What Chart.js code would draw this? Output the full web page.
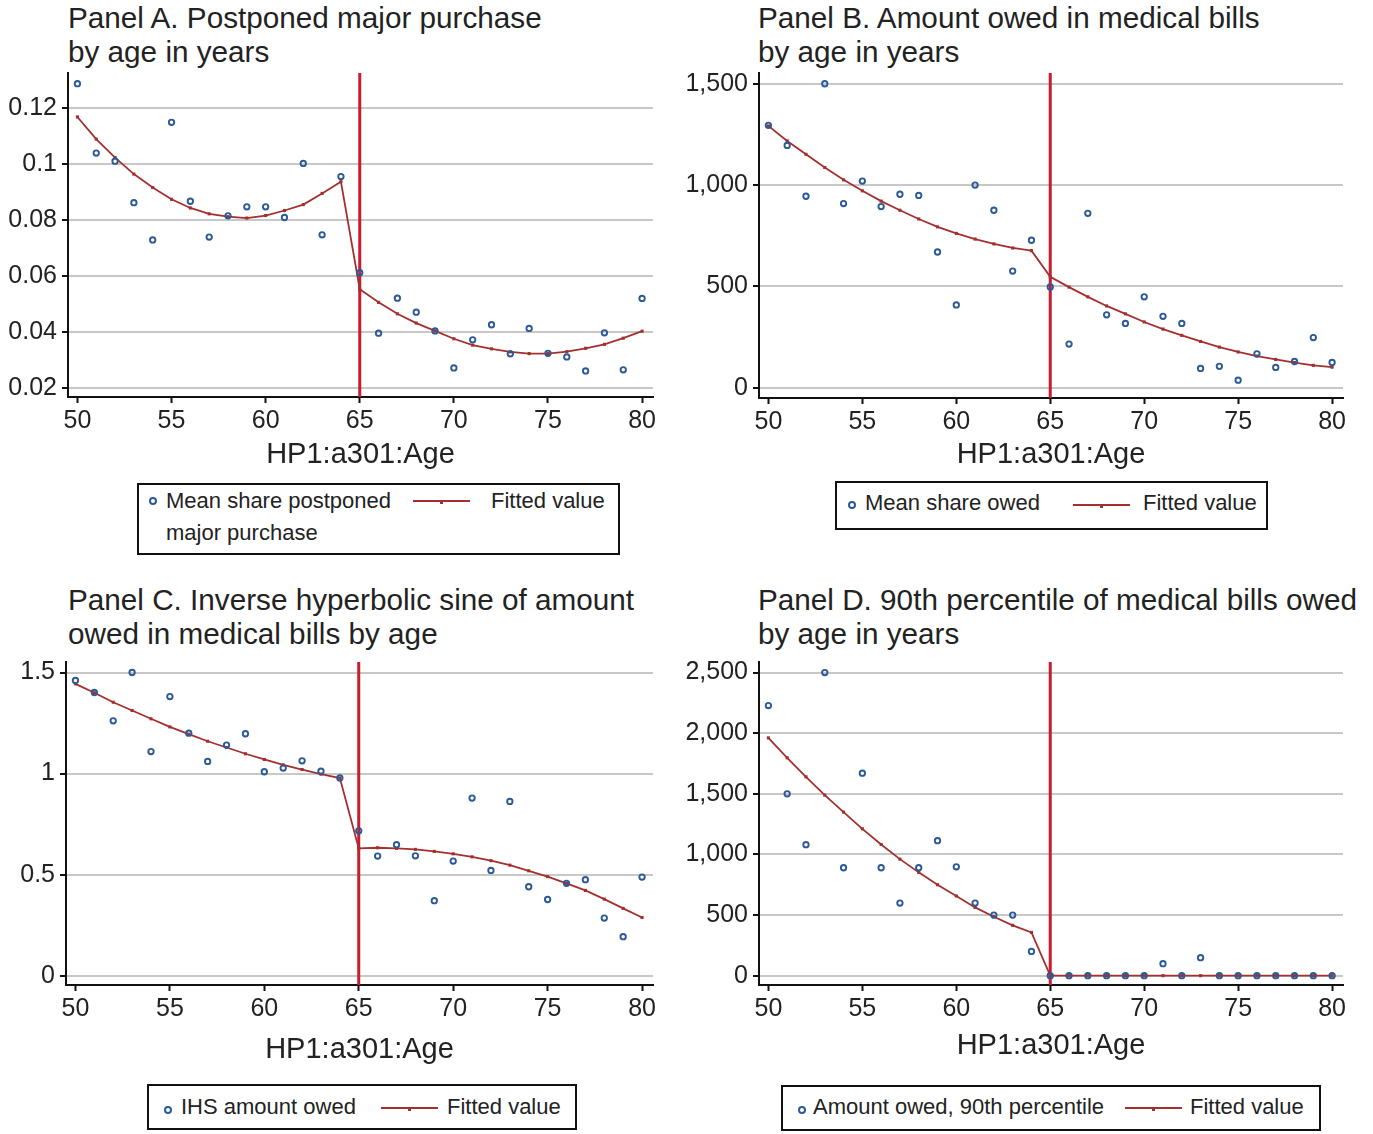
<!DOCTYPE html>
<html>
<head>
<meta charset="utf-8">
<script src="https://cdn.jsdelivr.net/npm/chart.js@4.4.1/dist/chart.umd.min.js"></script>
<style>
  body { margin:0; background:#fff; width:1373px; height:1134px; position:relative; overflow:hidden;
         font-family:"Liberation Sans", Arial, Helvetica, sans-serif; color:#222; }
  .title { position:absolute; font-size:29.7px; line-height:34px; white-space:nowrap; }
  canvas { position:absolute; }
  .legend { position:absolute; border:2px solid #111; box-sizing:border-box; z-index:5; }
  .lg { position:absolute; font-size:22px; line-height:30px; white-space:nowrap; z-index:6; }
  .dot { position:absolute; width:4px; height:4px; margin:-4px 0 0 -4px; border:2px solid #2b5a96; border-radius:50%; z-index:6; }
  .ln { position:absolute; height:2px; margin-top:-1px; background:#a3302f; z-index:6; }
  .ln i { position:absolute; left:50%; top:0; width:3px; height:4px; margin-left:-1.5px; background:#a3302f; }
</style>
</head>
<body>

<div class="title" style="left:68px;top:1px">Panel A. Postponed major purchase<br>by age in years</div>
<div class="title" style="left:758px;top:1px">Panel B. Amount owed in medical bills<br>by age in years</div>
<div class="title" style="left:68px;top:583px">Panel C. Inverse hyperbolic sine of amount<br>owed in medical bills by age</div>
<div class="title" style="left:758px;top:583px">Panel D. 90th percentile of medical bills owed<br>by age in years</div>

<canvas id="chartA"></canvas>
<canvas id="chartB"></canvas>
<canvas id="chartC"></canvas>
<canvas id="chartD"></canvas>

<!-- legends -->
<div class="legend" style="left:137px;top:483px;width:483px;height:72px"></div>
<span class="dot" style="left:153px;top:501px"></span>
<span class="lg" style="left:166px;top:486px">Mean share postponed</span>
<span class="lg" style="left:166px;top:518px">major purchase</span>
<span class="ln" style="left:413px;top:501px;width:57px"><i></i></span>
<span class="lg" style="left:491px;top:486px">Fitted value</span>

<div class="legend" style="left:835px;top:481px;width:433px;height:49px"></div>
<span class="dot" style="left:852px;top:505px"></span>
<span class="lg" style="left:865px;top:488px">Mean share owed</span>
<span class="ln" style="left:1073px;top:505px;width:57px"><i></i></span>
<span class="lg" style="left:1143px;top:488px">Fitted value</span>

<div class="legend" style="left:147px;top:1084px;width:430px;height:46px"></div>
<span class="dot" style="left:168px;top:1110px"></span>
<span class="lg" style="left:181px;top:1092px">IHS amount owed</span>
<span class="ln" style="left:381px;top:1108px;width:57px"><i></i></span>
<span class="lg" style="left:447px;top:1092px">Fitted value</span>

<div class="legend" style="left:781px;top:1085px;width:540px;height:46px"></div>
<span class="dot" style="left:802px;top:1110px"></span>
<span class="lg" style="left:813px;top:1092px">Amount owed, 90th percentile</span>
<span class="ln" style="left:1125px;top:1108px;width:57px"><i></i></span>
<span class="lg" style="left:1190px;top:1092px">Fitted value</span>

<script>
/* ---------- data ---------- */
const ages = [50,51,52,53,54,55,56,57,58,59,60,61,62,63,64,65,66,67,68,69,70,71,72,73,74,75,76,77,78,79,80];
const xTicks = [50,55,60,65,70,75,80];
const cutoffAge = 65;

// Panel A: share postponed major purchase
const meanA = [0.1287,0.1039,0.1010,0.0862,0.0729,0.1149,0.0867,0.0739,0.0815,0.0847,0.0847,0.0809,0.1002,0.0747,0.0955,
               0.0612,0.0396,0.0521,0.0471,0.0404,0.0272,0.0372,0.0426,0.0322,0.0413,0.0324,0.0311,0.0261,0.0397,0.0265,0.0520];
const fitA  = [0.1168,0.1089,0.1023,0.0964,0.0916,0.0874,0.0843,0.0822,0.0812,0.0807,0.0816,0.0834,0.0855,0.0895,0.0937,
               0.0553,0.0506,0.0465,0.0432,0.0404,0.0376,0.0353,0.0340,0.0329,0.0323,0.0323,0.0330,0.0342,0.0356,0.0378,0.0403];
const yTicksA = [0.02,0.04,0.06,0.08,0.1,0.12];

// Panel B: amount owed in medical bills
const meanB = [1295,1196,945,1500,909,1020,894,955,949,670,409,1000,876,576,728,
               498,216,861,360,318,449,353,318,96,106,38,168,101,130,248,125];
const fitB  = [1292,1218,1152,1087,1026,972,921,876,833,794,762,734,710,690,677,
               548,497,449,404,365,325,290,259,229,201,177,157,140,125,111,102];
const yTicksB = [0,500,1000,1500];

// Panel C: inverse hyperbolic sine of amount owed
const meanC = [1.461,1.401,1.261,1.500,1.109,1.381,1.200,1.060,1.141,1.197,1.009,1.027,1.063,1.012,0.978,
               0.717,0.592,0.648,0.593,0.371,0.567,0.879,0.521,0.862,0.440,0.377,0.457,0.475,0.285,0.193,0.488];
const fitC  = [1.444,1.400,1.353,1.312,1.271,1.231,1.195,1.160,1.129,1.098,1.070,1.043,1.020,0.997,0.978,
               0.630,0.633,0.630,0.625,0.615,0.603,0.588,0.569,0.547,0.519,0.490,0.457,0.422,0.379,0.333,0.288];
const yTicksC = [0,0.5,1,1.5];

// Panel D: 90th percentile of medical bills owed
const meanD = [2228,1500,1080,2500,890,1670,890,599,890,1113,898,599,500,500,200,
               0,0,0,0,0,0,99,0,148,0,0,0,0,0,0,0];
const fitD  = [1961,1797,1640,1489,1349,1211,1082,961,852,750,657,563,486,415,357,
               0,0,0,0,0,0,0,0,0,0,0,0,0,0,0,0];
const yTicksD = [0,500,1000,1500,2000,2500];

/* ---------- style ---------- */
const FONT = '"Liberation Sans", Arial, Helvetica, sans-serif';
const BLUE = "#2b5a96";
const MAROON = "#a3302f";
const RED = "#cc1a2e";
const GRID = "#c8c8c8";
const Y_AXIS_W = 90;

const fmtPlain = v => String(v);
const fmtComma = v => v.toLocaleString("en-US");

function toPoints(ys) {
  return ages.map((a, i) => ({ x: a, y: ys[i] }));
}

function makePanel(id, geo, yRange, yTicks, means, fits, fmt) {
  const cv = document.getElementById(id);
  const left = geo.left - Y_AXIS_W;
  const top = geo.top - 20;
  const bottom = geo.titleY + 17.4;
  cv.width = geo.right + 20 - left;
  cv.height = Math.round(bottom - top);
  cv.style.left = left + "px";
  cv.style.top = top + "px";
  const xAxisH = top + cv.height - geo.bottom;

  new Chart(cv, {
    type: "scatter",
    data: {
      datasets: [
        {
          data: toPoints(means),
          showLine: false,
          pointStyle: "circle",
          pointRadius: 2.7,
          borderWidth: 1.9,
          borderColor: BLUE,
          backgroundColor: "rgba(255,255,255,0)",
          order: 0
        },
        {
          data: toPoints(fits),
          showLine: true,
          tension: 0,
          borderColor: MAROON,
          borderWidth: 1.8,
          pointStyle: "rect",
          pointRadius: 2.2,
          pointBorderWidth: 0,
          pointBackgroundColor: MAROON,
          backgroundColor: MAROON,
          order: 1
        },
        {
          data: [{ x: cutoffAge, y: yRange[0] }, { x: cutoffAge, y: yRange[1] }],
          showLine: true,
          borderColor: RED,
          borderWidth: 3,
          pointRadius: 0,
          order: 2
        }
      ]
    },
    options: {
      responsive: false,
      animation: false,
      layout: { padding: { left: 0, top: 20, right: 20, bottom: 0 } },
      plugins: { legend: { display: false }, tooltip: { enabled: false } },
      scales: {
        x: {
          type: "linear",
          min: 49.5,
          max: 80.58,
          afterBuildTicks: s => { s.ticks = xTicks.map(v => ({ value: v })); },
          afterFit: s => { s.height = xAxisH; },
          ticks: { autoSkip: false, maxRotation: 0, padding: 3, color: "#222",
                   font: { family: FONT, size: 25 }, callback: v => String(v) },
          grid: { drawOnChartArea: false, tickColor: "#111", tickLength: 6, tickWidth: 2 },
          border: { display: true, color: "#111", width: 2 },
          title: { display: true, text: "HP1:a301:Age", color: "#222", padding: 0,
                   font: { family: FONT, size: 29, lineHeight: 1.2 } }
        },
        y: {
          type: "linear",
          min: yRange[0],
          max: yRange[1],
          afterBuildTicks: s => { s.ticks = yTicks.map(v => ({ value: v })); },
          afterFit: s => { s.width = Y_AXIS_W; },
          ticks: { padding: 5, color: "#222", font: { family: FONT, size: 25 }, callback: fmt },
          grid: { color: GRID, lineWidth: 2, tickColor: "#111", tickLength: 6, tickWidth: 2 },
          border: { display: true, color: "#111", width: 2 }
        }
      }
    }
  });
}

makePanel("chartA", { left: 68, right: 653, top: 73, bottom: 397, titleY: 455 },
          [0.0168, 0.1325], yTicksA, meanA, fitA, fmtPlain);
makePanel("chartB", { left: 759, right: 1343, top: 73, bottom: 398, titleY: 455 },
          [-50, 1553], yTicksB, meanB, fitB, fmtComma);
makePanel("chartC", { left: 66, right: 653, top: 662, bottom: 985, titleY: 1050 },
          [-0.046, 1.552], yTicksC, meanC, fitC, fmtPlain);
makePanel("chartD", { left: 759, right: 1343, top: 662, bottom: 985, titleY: 1046 },
          [-77, 2587], yTicksD, meanD, fitD, fmtComma);
</script>
</body>
</html>
